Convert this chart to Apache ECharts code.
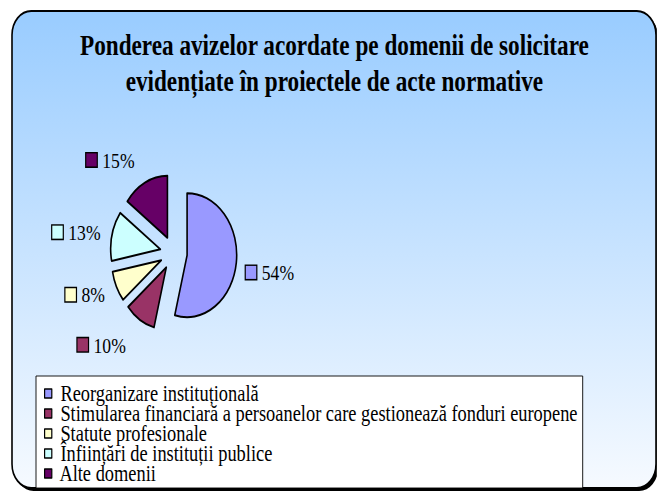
<!DOCTYPE html>
<html>
<head>
<meta charset="utf-8">
<title>Ponderea avizelor</title>
<script src="https://cdn.jsdelivr.net/npm/echarts@6/dist/echarts.min.js"></script>
<style>
html, body { margin: 0; padding: 0; background: #fff; overflow: hidden; }
/* the original picture is squeezed horizontally, so the chart is drawn wider and scaled back */
#chart { position: absolute; left: 0; top: 0; width: 821px; height: 495px; transform: scaleX(0.8); transform-origin: 0 0; }
</style>
</head>
<body>
<div id="chart"></div>
<script>
const categories = [
  'Reorganizare instituțională',
  'Stimularea financiară a persoanelor care gestionează fonduri europene',
  'Statute profesionale',
  'Înființări de instituții publice',
  'Alte domenii'
]
const shares = [54, 10, 8, 13, 15]
const colors = ['#9999FF', '#993366', '#FFFFCC', '#CCFFFF', '#660066']
// small nudges so the labels sit where Excel put them
const labelShift = [[-5, 8], [-6, 15], [1.5, 3], [2.5, -1], [-2.5, -12]]

const serif = 'Liberation Serif, Times New Roman, serif'

const chart = echarts.init(document.getElementById('chart'), null, { renderer: 'svg' })

// square markers in front of the percentages
const rich = { v: { fontFamily: serif, fontSize: 22, color: '#000', padding: [0, 0, 0, 7] } }
colors.forEach((c, i) => {
  rich['s' + i] = { width: 13, height: 13, backgroundColor: c, borderColor: '#000', borderWidth: 1.5 }
})

const pieData = categories.map((name, i) => ({
  name: name,
  value: shares[i],
  selected: true,
  itemStyle: { color: colors[i] }
}))

const option = {
  animation: false,
  graphic: [
    {
      type: 'rect', z: -10, silent: true,
      shape: { x: 18, y: 14, width: 805, height: 477, r: 24 },
      style: { fill: '#000' }
    },
    {
      type: 'rect', z: -9, silent: true,
      shape: { x: 15, y: 11, width: 805, height: 477, r: 24 },
      style: {
        stroke: '#000', lineWidth: 2,
        fill: new echarts.graphic.LinearGradient(0, 0, 0, 1, [
          { offset: 0, color: '#99CCFF' },
          { offset: 1, color: '#F6FAFF' }
        ])
      }
    }
  ],
  title: {
    text: 'Ponderea avizelor acordate pe domenii de solicitare\nevidențiate în proiectele de acte normative',
    left: 418,
    top: 28,
    textAlign: 'center',
    padding: 0,
    textStyle: { fontFamily: serif, fontWeight: 'bold', fontSize: 29, lineHeight: 36, color: '#000' }
  },
  legend: {
    orient: 'vertical',
    left: 45,
    top: 376,
    icon: 'rect',
    itemWidth: 9,
    itemHeight: 9,
    itemGap: -3,
    padding: [6, 6, 3, 10],
    backgroundColor: '#fff',
    borderColor: '#000',
    borderWidth: 1,
    selectedMode: false,
    itemStyle: { borderColor: '#000', borderWidth: 1.5 },
    formatter: name => ' ' + name,
    textStyle: { fontFamily: serif, fontSize: 23, lineHeight: 20, color: '#000' }
  },
  series: [
    {
      type: 'pie',
      center: [217, 253],
      radius: 62,
      startAngle: 90,
      clockwise: true,
      selectedMode: 'multiple',
      selectedOffset: 17,
      avoidLabelOverlap: false,
      itemStyle: { borderColor: '#000', borderWidth: 2 },
      label: {
        show: true,
        position: 'outside',
        distanceToLabelLine: 5,
        formatter: p => '{s' + p.dataIndex + '|}{v|' + p.value + '%}',
        rich: rich
      },
      labelLine: { show: false, length: 12, length2: 0 },
      labelLayout: p => ({ dx: labelShift[p.dataIndex][0], dy: labelShift[p.dataIndex][1] }),
      emphasis: { disabled: true },
      data: pieData
    }
  ]
}
chart.setOption(option)
</script>
</body>
</html>
